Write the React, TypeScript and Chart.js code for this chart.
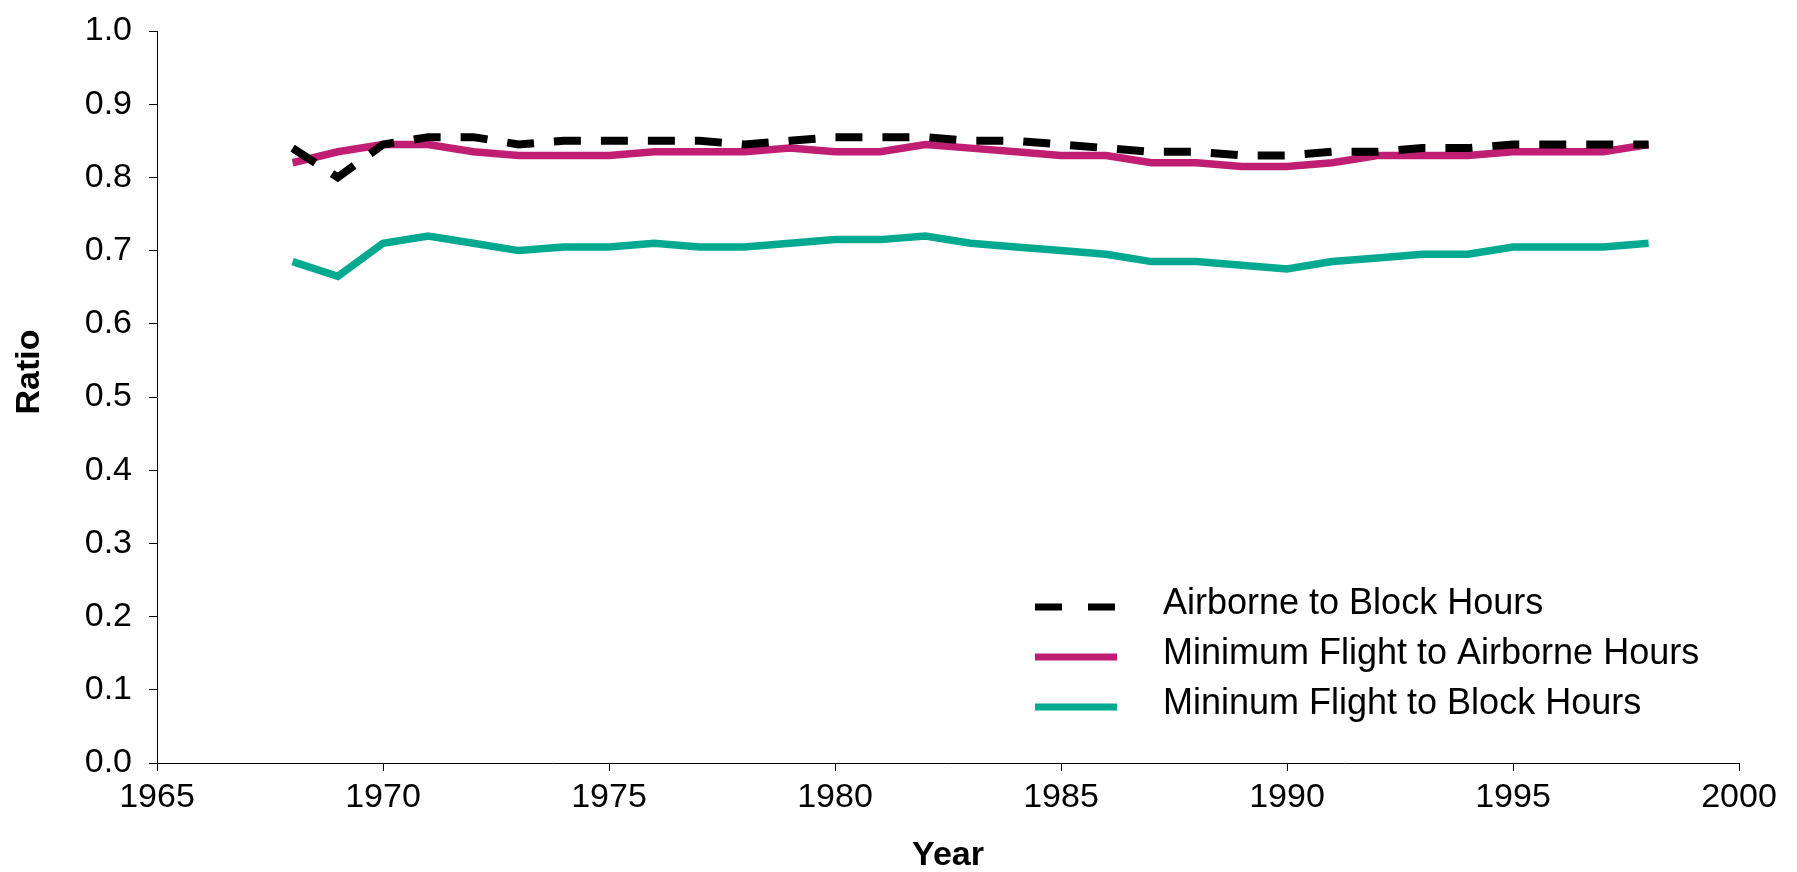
import React, { useEffect, useRef } from "react";
import { Chart, registerables } from "chart.js";

Chart.register(...registerables);

const years = [1968, 1969, 1970, 1971, 1972, 1973, 1974, 1975, 1976, 1977, 1978, 1979, 1980, 1981, 1982, 1983, 1984, 1985, 1986, 1987, 1988, 1989, 1990, 1991, 1992, 1993, 1994, 1995, 1996, 1997, 1998];

const airborneToBlock = [0.84, 0.8, 0.845, 0.855, 0.855, 0.845, 0.85, 0.85, 0.85, 0.85, 0.845, 0.85, 0.855, 0.855, 0.855, 0.85, 0.85, 0.845, 0.84, 0.835, 0.835, 0.83, 0.83, 0.835, 0.835, 0.84, 0.84, 0.845, 0.845, 0.845, 0.845];

const minFlightToAirborne = [0.82, 0.835, 0.845, 0.845, 0.835, 0.83, 0.83, 0.83, 0.835, 0.835, 0.835, 0.84, 0.835, 0.835, 0.845, 0.84, 0.835, 0.83, 0.83, 0.82, 0.82, 0.815, 0.815, 0.82, 0.83, 0.83, 0.83, 0.835, 0.835, 0.835, 0.845];

const minFlightToBlock = [0.685, 0.665, 0.71, 0.72, 0.71, 0.7, 0.705, 0.705, 0.71, 0.705, 0.705, 0.71, 0.715, 0.715, 0.72, 0.71, 0.705, 0.7, 0.695, 0.685, 0.685, 0.68, 0.675, 0.685, 0.69, 0.695, 0.695, 0.705, 0.705, 0.705, 0.71];

const seriesLabels = ["Airborne to Block Hours", "Minimum Flight to Airborne Hours", "Mininum Flight to Block Hours"];
const seriesColors = ["#000000", "#C01E72", "#00A990"];
const seriesWidths = [8, 7.5, 7.5];

const yAxisTitle = "Ratio";
const xAxisTitle = "Year";

const FONT = "'Liberation Sans', Arial, sans-serif";

const overlayPlugin = {
  id: "overlayText",
  afterDraw(chart: any) {
    const ctx = chart.ctx;
    const lineX0 = 1035;
    const lineX1 = 1117;
    const textX = 1163;
    const firstLineY = 607;
    const rowGap = 50;
    ctx.save();
    chart.data.datasets.forEach((ds: any, i: number) => {
      const y = firstLineY + i * rowGap;
      ctx.beginPath();
      ctx.strokeStyle = ds.borderColor;
      ctx.lineWidth = 7;
      ctx.lineCap = "butt";
      ctx.setLineDash(i === 0 ? [27, 26] : []);
      ctx.moveTo(lineX0, y);
      ctx.lineTo(lineX1, y);
      ctx.stroke();
      ctx.setLineDash([]);
      ctx.fillStyle = "#000";
      ctx.font = `36px ${FONT}`;
      ctx.textBaseline = "alphabetic";
      ctx.textAlign = "left";
      ctx.fillText(ds.label, textX, y + 7);
    });
    // y-axis title
    ctx.translate(30, 372);
    ctx.rotate(-Math.PI / 2);
    ctx.font = `bold 34px ${FONT}`;
    ctx.textAlign = "center";
    ctx.textBaseline = "middle";
    ctx.fillStyle = "#000";
    ctx.fillText(yAxisTitle, 0, 0);
    ctx.restore();
  },
};

export default function App() {
  const canvasRef = useRef<HTMLCanvasElement | null>(null);

  useEffect(() => {
    document.body.style.margin = "0";
    const canvas = canvasRef.current;
    if (!canvas) return;
    const series = [airborneToBlock, minFlightToAirborne, minFlightToBlock];
    const chart = new Chart(canvas, {
      type: "line",
      data: {
        datasets: series.map((vals, i) => ({
          label: seriesLabels[i],
          data: years.map((yr, j) => ({ x: yr, y: vals[j] })),
          borderColor: seriesColors[i],
          backgroundColor: seriesColors[i],
          borderWidth: seriesWidths[i],
          borderDash: i === 0 ? [27, 20] : [],
          borderCapStyle: "butt",
          borderJoinStyle: "miter",
          pointRadius: 0,
          tension: 0,
          fill: false,
        })),
      },
      options: {
        responsive: false,
        animation: false,
        devicePixelRatio: 1,
        layout: { padding: { top: 31, right: 58, left: 0, bottom: 0 } },
        plugins: {
          legend: { display: false },
          tooltip: { enabled: false },
        },
        scales: {
          x: {
            type: "linear",
            min: 1965,
            max: 2000,
            ticks: {
              stepSize: 5,
              color: "#000",
              font: { family: FONT, size: 34 },
              padding: 6,
              maxRotation: 0,
              callback: (v: any) => String(v),
            },
            grid: { display: true, drawOnChartArea: false, drawTicks: true, tickLength: 8, color: "#000" },
            border: { display: true, color: "#000", width: 1 },
            title: {
              display: true,
              text: xAxisTitle,
              color: "#000",
              font: { family: FONT, size: 34, weight: "bold" },
              padding: { top: 0, bottom: -4 },
            },
            afterFit: (scale: any) => {
              scale.height = 109;
            },
          },
          y: {
            type: "linear",
            min: 0,
            max: 1,
            ticks: {
              stepSize: 0.1,
              color: "#000",
              font: { family: FONT, size: 34, lineHeight: 0.75 },
              padding: 17,
              callback: (v: any) => Number(v).toFixed(1),
            },
            grid: { display: true, drawOnChartArea: false, drawTicks: true, tickLength: 8, color: "#000" },
            border: { display: true, color: "#000", width: 1 },
            title: { display: false },
            afterFit: (scale: any) => {
              scale.width = 157;
            },
          },
        },
      },
      plugins: [overlayPlugin],
    } as any);
    return () => chart.destroy();
  }, []);

  return (
    <div style={{ position: "absolute", left: 0, top: 0, width: 1797, height: 872, background: "#fff" }}>
      <canvas ref={canvasRef} width={1797} height={872} />
    </div>
  );
}
